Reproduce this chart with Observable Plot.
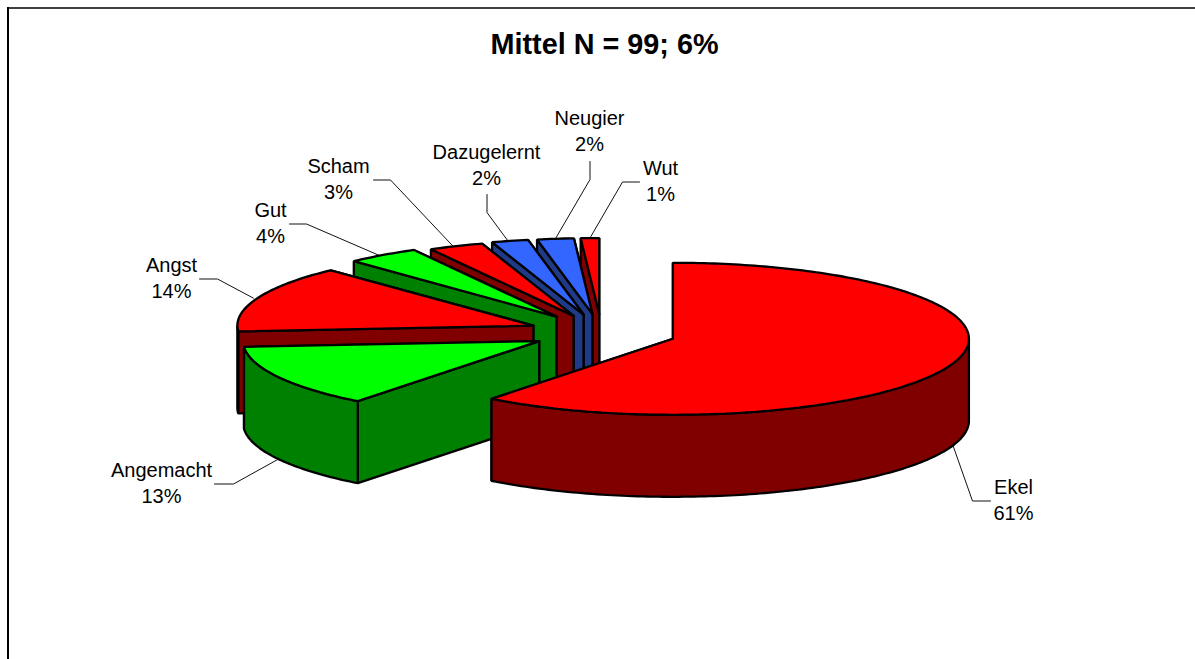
<!DOCTYPE html>
<html>
<head>
<meta charset="utf-8">
<style>html,body{margin:0;padding:0;background:#fff;overflow:hidden}svg{display:block}</style>
<script src="https://cdn.jsdelivr.net/npm/d3@7"></script>
<script src="https://cdn.jsdelivr.net/npm/@observablehq/plot@0.6"></script>
</head>
<body>
<div id="chart"></div>
<script>
const categories = ["Ekel","Angemacht","Angst","Gut","Scham","Dazugelernt","Neugier","Wut"];
const shares = [60.5,13.3,14.2,4,3,2,2,1];
const chartTitle = "Mittel N = 99; 6%";

const topColors = ["#ff0000","#00ff00","#ff0000","#00ff00","#ff0000","#3366ff","#3366ff","#ff0000"];
const wallColors = ["#800000","#008000","#800000","#008000","#800000","#1f3a87","#1f3a87","#800000"];

// pie layout
const W = 1195, H = 659;
const cx = 601, cy = 332, rx = 296, ry = 76, depth = 82;
const explodeBy = [0.255,0.239,0.247,0.259,0.238,0.244,0.243,0.243];

// label layout: text centre, elbow points from the label side, nudge of the leader's end
const labelLayout = {
  Ekel:        {x:1013, y:498, stub:[[990,500.5],[972,500.5]], dx:0},
  Angemacht:   {x:161,  y:481, stub:[[214,483.5],[233,483.5]], dx:0},
  Angst:       {x:171,  y:276, stub:[[199,278.5],[217,278.5]], dx:-4},
  Gut:         {x:270,  y:221, stub:[[289,223.5],[306,223.5]], dx:-4},
  Scham:       {x:338,  y:177, stub:[[373,179.5],[390,179.5]], dx:-3},
  Dazugelernt: {x:486,  y:163, stub:[[486.5,194],[486.5,212]], dx:-2},
  Neugier:     {x:589,  y:129, stub:[[589.5,161],[589.5,179]], dx:0},
  Wut:         {x:660,  y:179, stub:[[639,181.5],[622,181.5]], dx:0}
};

const total = d3.sum(shares);
const rad = d => d * Math.PI / 180;
let acc = 0;
const slices = categories.map((name,i) => {
  const a0 = acc / total * 360; acc += shares[i];
  const a1 = acc / total * 360; const mid = (a0 + a1) / 2;
  const ax = cx + explodeBy[i] * rx * Math.sin(rad(mid));
  const ay = cy - explodeBy[i] * ry * Math.cos(rad(mid));
  const rim = a => [ax + rx * Math.sin(rad(a)), ay - ry * Math.cos(rad(a))];
  return {name, share: shares[i], i, a0, a1, mid, ax, ay, rim};
});

const arc = (s, from, to) => {
  const n = Math.max(2, Math.ceil((to - from) / 1));
  return d3.range(n + 1).map(k => s.rim(from + (to - from) * k / n));
};

// paint back to front: each slice contributes walls, rim, then top
const polys = [];
let pid = 0;
const addPoly = (pts, fill) => {
  const id = pid++;
  [...pts, pts[0]].forEach(p => polys.push({x:p[0], y:p[1], id, fill}));
};
[...slices].reverse().forEach(s => {
  const wall = wallColors[s.i], top = topColors[s.i];
  const down = p => [p[0], p[1] + depth];
  const apex = [s.ax, s.ay];
  const sideA = s.rim(s.a0), sideB = s.rim(s.a1);
  addPoly([apex, sideB, down(sideB), down(apex)], wall);
  addPoly([apex, sideA, down(sideA), down(apex)], wall);
  const r0 = Math.max(s.a0, 90), r1 = Math.min(s.a1, 270);
  if (r1 > r0) {
    const a = arc(s, r0, r1);
    addPoly([...a, ...a.map(down).reverse()], wall);
  }
  addPoly([apex, ...arc(s, s.a0, s.a1)], top);
});

// leader lines: from the rim at the slice's middle angle to the label elbow
const leaders = [];
slices.forEach(s => {
  const p = s.rim(s.mid);
  const front = s.mid > 90 && s.mid < 270;
  const end = [p[0] + labelLayout[s.name].dx, p[1] + (front ? depth : 0)];
  [...labelLayout[s.name].stub, end].forEach(q => leaders.push({x:q[0], y:q[1], z:s.name}));
});

const labels = slices.map(s => ({
  x: labelLayout[s.name].x, y: labelLayout[s.name].y,
  text: s.name + "\n" + Math.round(s.share) + "%"
}));

const plot = Plot.plot({
  width: W, height: H,
  margin: 0,
  x: {domain:[0,W], range:[0,W], axis:null},
  y: {domain:[0,H], range:[0,H], axis:null},
  style: {fontFamily:'"Liberation Sans", Arial, sans-serif', background:"#fff"},
  marks: [
    Plot.ruleY([7.5], {x1:7, x2:W, stroke:"#000", strokeWidth:1.5}),
    Plot.ruleX([7.5], {y1:7, y2:H, stroke:"#000", strokeWidth:2}),
    Plot.line(leaders, {x:"x", y:"y", z:"z", stroke:"#111", strokeWidth:1}),
    Plot.line(polys, {x:"x", y:"y", z:"id", fill:"fill", stroke:"#000", strokeWidth:2.3, strokeLinejoin:"miter"}),
    Plot.text(labels, {x:"x", y:"y", text:"text", fontSize:20, lineHeight:1.3, fill:"#000"}),
    Plot.text([chartTitle], {x:[604], y:[44], fontSize:28.8, fontWeight:"bold", fill:"#000"})
  ]
});
document.getElementById("chart").appendChild(plot);
</script>
</body>
</html>
